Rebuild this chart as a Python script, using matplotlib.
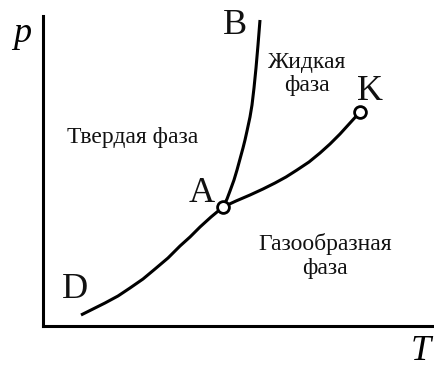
import matplotlib
matplotlib.use("Agg")
import matplotlib.pyplot as plt

plt.rcParams["font.family"] = ["Liberation Serif", "DejaVu Serif"]

# Phase boundaries (T, p in arbitrary units)
sublim_T = [38, 50, 62, 75, 87, 100, 112, 125, 137, 147, 157, 168, 180]
sublim_p = [11, 17, 23, 30, 38, 47, 57, 68, 80, 89, 99, 109, 119]
evap_T = [180, 193, 207, 220, 232, 243, 254, 266, 277, 287, 297, 307, 317]
evap_p = [119, 125, 131, 137, 143, 149, 156, 164, 173, 182, 192, 203, 214]
melt_T = [180, 184, 187, 191, 194, 197, 200, 202, 204, 207, 209, 211, 213, 215, 217]
melt_p = [119, 127, 135, 146, 156, 167, 178, 186, 195, 209, 221, 238, 258, 281, 306]

# Special points: triple point A, critical point K
point_T = [180, 317]
point_p = [119, 214]

point_labels = ["A", "B", "K", "D"]
label_T = [159, 192, 327, 32]
label_p = [133, 300, 235, 36]

phase_names = ["Твердая фаза", "Жидкая\nфаза", "Газообразная\nфаза"]
phase_T = [90, 264, 282]
phase_p = [189, 252, 70]

fig = plt.figure(figsize=(4.34, 3.67), dpi=100)
ax = fig.add_axes([43 / 434, 41 / 367, 391 / 434, 310 / 367])
ax.set_xlim(0, 391)
ax.set_ylim(0, 310)

lw = 2.2
ax.plot(sublim_T, sublim_p, color="black", lw=lw, solid_capstyle="butt")
ax.plot(evap_T, evap_p, color="black", lw=lw, solid_capstyle="butt")
ax.plot(melt_T, melt_p, color="black", lw=lw, solid_capstyle="butt")
ax.plot(point_T, point_p, "o", ms=8.5, mfc="white", mec="black", mew=2, zorder=5)

for lab, t, p in zip(point_labels, label_T, label_p):
    ax.text(t, p, lab, fontsize=26, ha="center", va="center", color="#111111")

for name, t, p in zip(phase_names, phase_T, phase_p):
    ax.text(t, p, name, fontsize=17, ha="center", va="center",
            linespacing=1.15, color="#111111")

ax.text(-21, 293, "p", fontsize=26, style="italic", ha="center", va="center",
        clip_on=False)
ax.text(378, -25, "T", fontsize=26, style="italic", ha="center", va="center",
        clip_on=False)

for side in ["top", "right"]:
    ax.spines[side].set_visible(False)
for side in ["left", "bottom"]:
    ax.spines[side].set_linewidth(2.2)
ax.set_xticks([])
ax.set_yticks([])

fig.savefig("out.png", dpi=100)
